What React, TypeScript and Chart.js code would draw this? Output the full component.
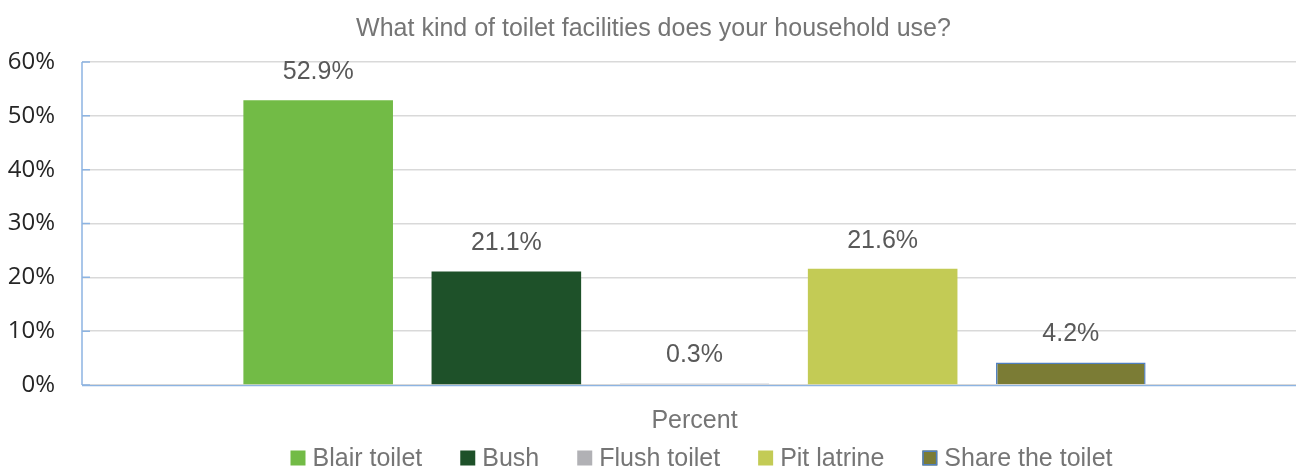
import React, { useEffect, useRef } from "react";
import { Chart, registerables } from "chart.js";

Chart.register(...registerables);

const chartTitle = "What kind of toilet facilities does your household use?";
const categories = ["Percent"];
const seriesNames = ["Blair toilet", "Bush", "Flush toilet", "Pit latrine", "Share the toilet"];
const seriesValues = [52.9, 21.1, 0.3, 21.6, 4.2];
const seriesColors = ["#72bb46", "#1e5129", "#b1b1b5", "#c3cb55", "#7b7c35"];
const seriesBorderColors = ["#72bb46", "#1e5129", "#9aa3b5", "#c3cb55", "#4f7fc0"];
const seriesBorderWidths = [0, 0, 1, 0, 1.5];
const yMin = 0;
const yMax = 60;
const yStep = 10;

const AXIS_BLUE = "#8db4e2";
const TEXT_GRAY = "#757575";
const LABEL_FONT = "Liberation Sans, Arial, sans-serif";
const FONT_SIZE = 25;

const axisPlugin = {
  id: "customAxes",
  afterDatasetsDraw(chart: any) {
    const { ctx, chartArea, scales } = chart;
    const y = scales.y;
    ctx.save();
    ctx.strokeStyle = AXIS_BLUE;
    ctx.lineWidth = 1.5;
    ctx.beginPath();
    ctx.moveTo(chartArea.left, chartArea.top);
    ctx.lineTo(chartArea.left, chartArea.bottom);
    y.ticks.forEach((t: any) => {
      const py = y.getPixelForValue(t.value);
      ctx.moveTo(chartArea.left, py);
      ctx.lineTo(chartArea.left + 8, py);
    });
    ctx.stroke();
    ctx.lineWidth = 1.2;
    ctx.beginPath();
    ctx.moveTo(chartArea.left, chartArea.bottom + 0.6);
    ctx.lineTo(chartArea.right, chartArea.bottom + 0.6);
    ctx.stroke();
    ctx.restore();
  },
};

const valueLabelPlugin = {
  id: "valueLabels",
  afterDatasetsDraw(chart: any) {
    const { ctx } = chart;
    ctx.save();
    ctx.font = `${FONT_SIZE}px ${LABEL_FONT}`;
    ctx.fillStyle = "#595959";
    ctx.textAlign = "center";
    ctx.textBaseline = "middle";
    chart.data.datasets.forEach((ds: any, i: number) => {
      const meta = chart.getDatasetMeta(i);
      meta.data.forEach((bar: any, j: number) => {
        const v = ds.data[j];
        ctx.fillText(v.toFixed(1) + "%", bar.x, bar.y - 28);
      });
    });
    ctx.restore();
  },
};

const legendPlugin = {
  id: "customLegend",
  afterDraw(chart: any) {
    const { ctx, chartArea } = chart;
    ctx.save();
    ctx.font = `${FONT_SIZE}px ${LABEL_FONT}`;
    ctx.textBaseline = "middle";
    ctx.textAlign = "left";
    const box = 15;
    const gapBoxText = 7;
    const gapItems = 38;
    const widths = seriesNames.map((n) => ctx.measureText(n).width);
    const total =
      widths.reduce((a, b) => a + b, 0) +
      seriesNames.length * (box + gapBoxText) +
      (seriesNames.length - 1) * gapItems;
    const cx = (chartArea.left + chartArea.right) / 2 + 7;
    let x = cx - total / 2;
    const cy = 458;
    seriesNames.forEach((n, i) => {
      ctx.fillStyle = seriesColors[i];
      ctx.fillRect(x, cy - box / 2, box, box);
      if (i === 4) {
        ctx.strokeStyle = seriesBorderColors[i];
        ctx.lineWidth = 1.5;
        ctx.strokeRect(x + 0.75, cy - box / 2 + 0.75, box - 1.5, box - 1.5);
      }
      ctx.fillStyle = TEXT_GRAY;
      ctx.fillText(n, x + box + gapBoxText, cy + 1);
      x += box + gapBoxText + widths[i] + gapItems;
    });
    ctx.restore();
  },
};

export default function App() {
  const canvasRef = useRef<HTMLCanvasElement | null>(null);

  useEffect(() => {
    document.body.style.margin = "0";
    document.body.style.overflow = "hidden";
    const canvas = canvasRef.current;
    if (!canvas) return;
    const chart = new Chart(canvas, {
      type: "bar",
      data: {
        labels: categories,
        datasets: seriesNames.map((name, i) => ({
          label: name,
          data: [seriesValues[i]],
          backgroundColor: seriesColors[i],
          borderColor: seriesBorderColors[i],
          borderWidth: seriesBorderWidths[i],
          borderSkipped: i === 2 ? false : "start",
          categoryPercentage: 0.768,
          barPercentage: 0.795,
        })),
      },
      options: {
        responsive: true,
        maintainAspectRatio: false,
        animation: false,
        devicePixelRatio: 1,
        layout: { padding: { left: 0, right: 0, top: 0, bottom: 11 } },
        plugins: {
          legend: { display: false },
          tooltip: { enabled: false },
          title: {
            display: true,
            text: chartTitle,
            color: TEXT_GRAY,
            font: { family: LABEL_FONT, size: FONT_SIZE, weight: "normal" },
            padding: { top: 14, bottom: 18 },
          },
        },
        scales: {
          x: {
            grid: { display: false, drawTicks: false },
            border: { display: false },
            ticks: {
              color: TEXT_GRAY,
              font: { family: LABEL_FONT, size: FONT_SIZE },
              padding: 21,
            },
          },
          y: {
            min: yMin,
            max: yMax,
            afterFit(scale: any) {
              scale.width = 82;
            },
            grid: { color: "#d9d9d9", lineWidth: 1.5, drawTicks: false },
            border: { display: false },
            ticks: {
              stepSize: yStep,
              color: "#262626",
              font: { family: "Open Sans, sans-serif", size: 24 },
              padding: 27,
              callback: (v: any) => v + "%",
            },
          },
        },
      },
      plugins: [axisPlugin, valueLabelPlugin, legendPlugin],
    });
    return () => chart.destroy();
  }, []);

  return (
    <div style={{ position: "fixed", left: 0, top: 0, width: 1307, height: 468 }}>
      <canvas ref={canvasRef} />
    </div>
  );
}
